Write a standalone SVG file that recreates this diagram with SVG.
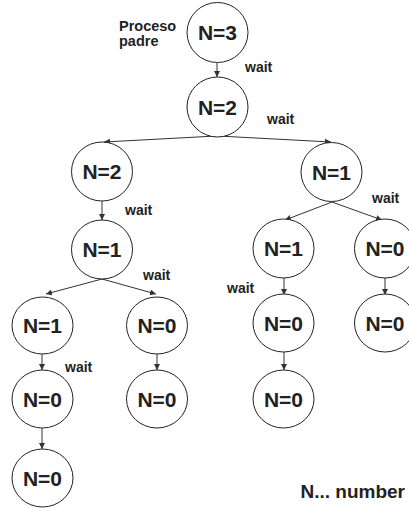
<svg xmlns="http://www.w3.org/2000/svg" width="409" height="508" viewBox="0 0 409 508">
<defs>
<style>
.n ellipse{fill:#fff;stroke:#222;stroke-width:1}
.n text{font-family:"Liberation Sans",Arial,sans-serif;font-weight:bold;font-size:21px;fill:#222;text-anchor:middle}
.lbl{font-family:"Liberation Sans",Arial,sans-serif;font-weight:bold;font-size:14px;fill:#222}
#edges line{stroke:#333;stroke-width:1;fill:none;marker-end:url(#ah)}
</style>
<marker id="ah" markerUnits="userSpaceOnUse" markerWidth="6" markerHeight="6" refX="6" refY="3" orient="auto">
<path d="M0,0 L6,3 L0,6 z" fill="#333"/>
</marker>
</defs>
<rect width="409" height="508" fill="#fff"/>
<g id="edges">
<line x1="217" y1="63" x2="217" y2="77"/>
<line x1="216" y1="136" x2="104" y2="142"/>
<line x1="218" y1="136" x2="331" y2="142"/>
<line x1="102" y1="201" x2="102" y2="220"/>
<line x1="332" y1="202" x2="285" y2="220"/>
<line x1="332" y1="202" x2="382" y2="220"/>
<line x1="102" y1="279" x2="46" y2="294"/>
<line x1="102" y1="279" x2="156" y2="294"/>
<line x1="284" y1="278" x2="284" y2="295"/>
<line x1="385" y1="278" x2="385" y2="295"/>
<line x1="42" y1="354" x2="42" y2="370"/>
<line x1="157" y1="354" x2="157" y2="370"/>
<line x1="284" y1="352" x2="284" y2="370"/>
<line x1="42" y1="428" x2="42" y2="449"/>
</g>
<g id="n3" class="n"><ellipse cx="217.5" cy="32.5" rx="30.5" ry="30"/><text x="217.5" y="40">N=3</text></g>
<g id="n2a" class="n"><ellipse cx="217.5" cy="107" rx="30.5" ry="30"/><text x="217.5" y="114.5">N=2</text></g>
<g id="n2b" class="n"><ellipse cx="102" cy="171.5" rx="30.5" ry="29.5"/><text x="102" y="179">N=2</text></g>
<g id="n1a" class="n"><ellipse cx="331.5" cy="172" rx="30.5" ry="29.5"/><text x="331.5" y="179.5">N=1</text></g>
<g id="n1b" class="n"><ellipse cx="102" cy="249.5" rx="30.5" ry="29.5"/><text x="102" y="257">N=1</text></g>
<g id="n1c" class="n"><ellipse cx="283.5" cy="248.5" rx="30.5" ry="29.5"/><text x="283.5" y="256">N=1</text></g>
<g id="n0a" class="n"><ellipse cx="385" cy="248.5" rx="30.5" ry="29.5"/><text x="385" y="256">N=0</text></g>
<g id="n1d" class="n"><ellipse cx="42.5" cy="325.5" rx="30.5" ry="28.5"/><text x="42.5" y="333">N=1</text></g>
<g id="n0b" class="n"><ellipse cx="157" cy="325.5" rx="30.5" ry="28.5"/><text x="157" y="333">N=0</text></g>
<g id="n0c" class="n"><ellipse cx="283.5" cy="323" rx="30.5" ry="29"/><text x="283.5" y="330.5">N=0</text></g>
<g id="n0d" class="n"><ellipse cx="385" cy="323" rx="30.5" ry="29"/><text x="385" y="330.5">N=0</text></g>
<g id="n0e" class="n"><ellipse cx="42.5" cy="399" rx="30.5" ry="29"/><text x="42.5" y="406.5">N=0</text></g>
<g id="n0f" class="n"><ellipse cx="157" cy="399" rx="30.5" ry="29"/><text x="157" y="406.5">N=0</text></g>
<g id="n0g" class="n"><ellipse cx="283.5" cy="399" rx="30.5" ry="29"/><text x="283.5" y="406.5">N=0</text></g>
<g id="n0h" class="n"><ellipse cx="42.5" cy="478" rx="30.5" ry="29"/><text x="42.5" y="485.5">N=0</text></g>
<text class="lbl" x="119" y="31" style="font-size:14.5px">Proceso</text>
<text class="lbl" x="119" y="46" style="font-size:14.5px">padre</text>
<text class="lbl" x="245" y="72">wait</text>
<text class="lbl" x="267" y="124">wait</text>
<text class="lbl" x="125" y="215">wait</text>
<text class="lbl" x="372" y="203">wait</text>
<text class="lbl" x="143" y="280">wait</text>
<text class="lbl" x="227" y="293">wait</text>
<text class="lbl" x="65" y="372">wait</text>
<text class="lbl" x="405" y="498" text-anchor="end" style="font-size:19px">N... number</text>
</svg>
